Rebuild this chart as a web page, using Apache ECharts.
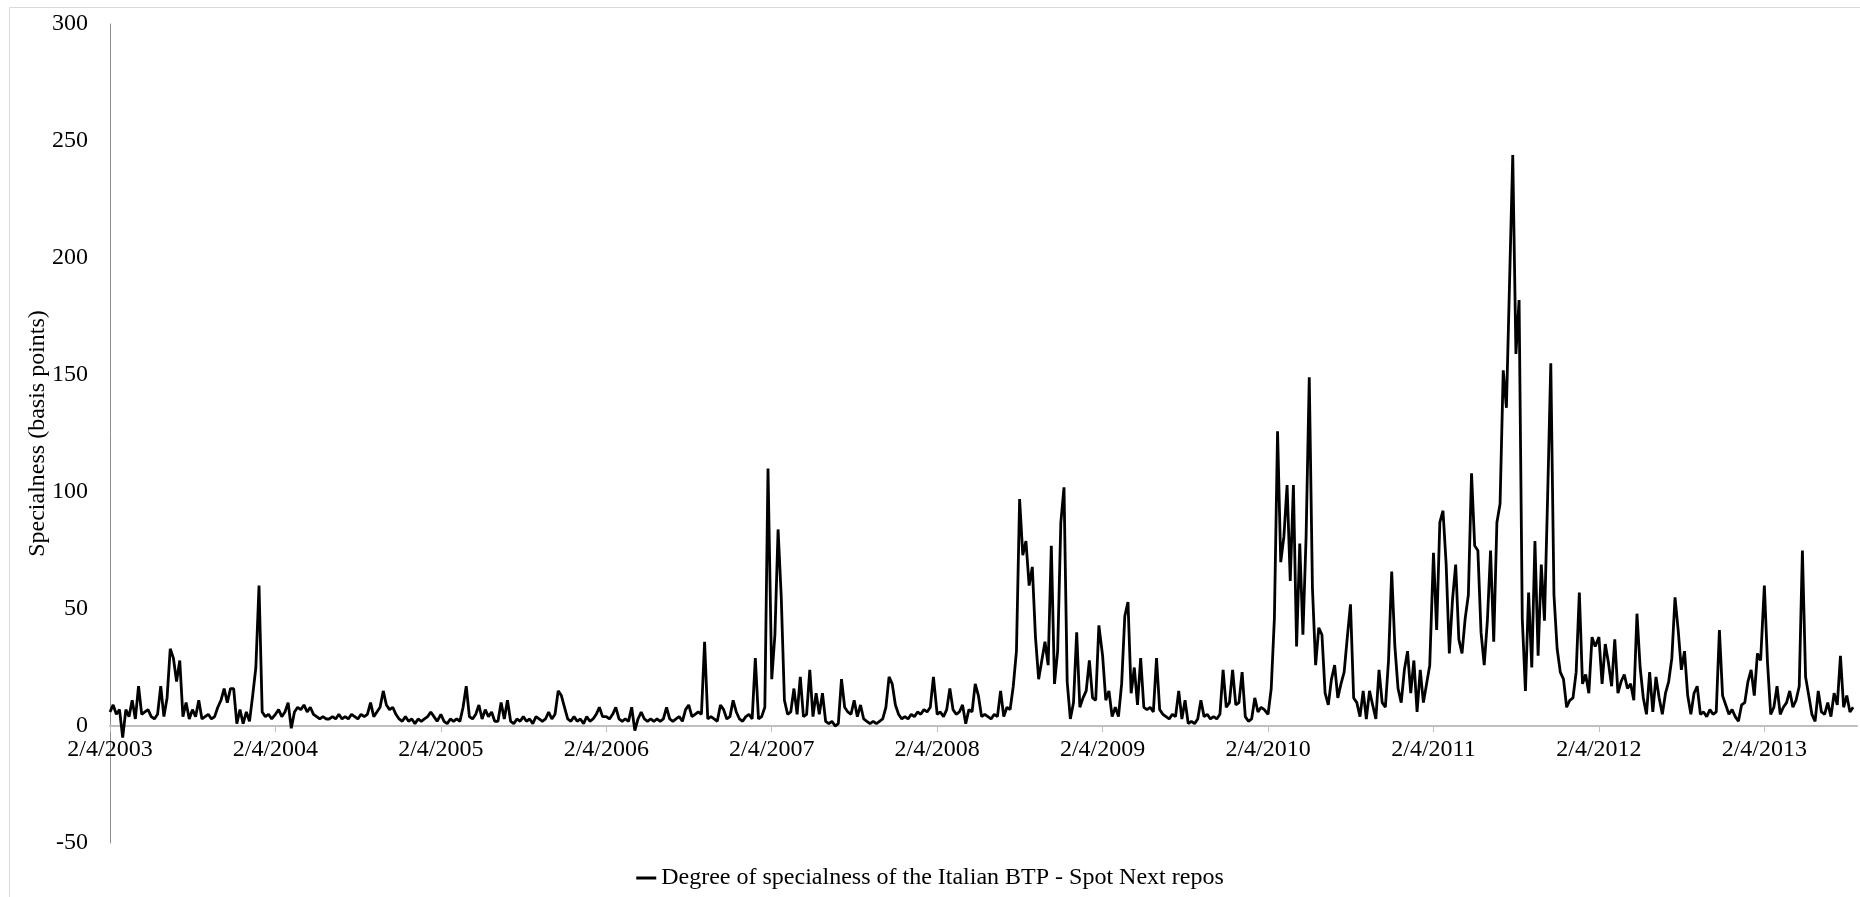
<!DOCTYPE html>
<html>
<head>
<meta charset="utf-8">
<script src="https://cdn.jsdelivr.net/npm/echarts@6/dist/echarts.min.js"></script>
<style>
html,body{margin:0;padding:0;background:#fff;}
#chart{width:1860px;height:897px;}
</style>
</head>
<body>
<div id="chart"></div>
<script>
// Weekly readings (basis points); each year's list starts on 2/4 of that year
const years = [2003,2004,2005,2006,2007,2008,2009,2010,2011,2012,2013];
const v2003 = [6,9,5,7,-5,7,4,11,3,17,5,6,7,4,3,5,17,4,12,33,29,19,28,4,10,3,7,4,11,3,4,5,3,4,8,11,16,10,16,16,1,7,1,6,2,13,25,60,6,4,5,3];
const v2004 = [5,7,4,6,10,-1,6,8,7,9,6,8,5,4,3,4,3,3,4,3,5,3,4,3,5,4,3,5,4,5,10,4,6,8,15,9,7,8,5,3,2,4,2,3,1,3,2,3,4,6,4,2];
const v2005 = [5,2,1,3,2,3,2,8,17,4,3,5,9,3,7,4,6,2,2,10,3,11,2,1,3,2,4,2,3,1,4,3,2,3,6,3,5,15,13,8,3,2,4,2,3,1,4,2,3,5,8,4];
const v2006 = [4,3,5,8,3,2,3,2,8,-2,3,6,3,2,3,2,3,2,3,8,3,2,3,4,2,7,9,4,5,6,5,36,3,4,3,2,9,7,3,4,11,6,3,2,4,5,3,29,3,4,8,110];
const v2007 = [20,39,84,55,11,5,6,16,5,21,4,5,24,4,14,5,14,2,1,2,0,1,20,8,6,5,11,4,9,3,2,1,2,1,2,3,8,21,18,9,5,3,4,3,5,4,6,5,7,6,8,21];
const v2008 = [5,6,4,7,16,7,5,6,9,1,7,6,18,13,4,5,4,3,5,4,15,4,8,7,17,32,97,73,79,60,68,38,20,28,36,26,77,18,32,87,102,19,3,10,40,8,12,15,28,12,11,43];
const v2009 = [30,11,15,4,8,4,18,47,53,14,25,9,29,8,7,8,6,29,7,5,4,3,5,4,15,3,11,1,2,1,3,11,4,5,3,4,3,5,24,8,10,24,9,10,23,4,2,3,12,6,8,7];
const v2010 = [5,16,46,126,70,81,103,62,103,34,78,39,81,149,59,26,42,39,14,9,20,26,12,18,23,38,52,12,10,4,15,3,15,9,3,24,10,8,28,66,34,16,10,24,32,14,28,6,24,10,18,26];
const v2011 = [74,41,87,92,69,31,54,69,37,31,46,56,108,77,75,40,26,45,75,36,87,95,152,136,190,244,159,182,46,15,57,25,79,30,69,45,98,155,56,33,23,20,8,11,12,23,57,18,22,14,38,34];
const v2012 = [38,18,35,27,17,37,14,19,22,16,18,11,48,25,12,5,23,6,21,12,5,14,19,29,55,41,24,32,13,5,14,17,5,6,4,7,5,6,41,13,9,5,7,4,2,9,10,19,24,13,31,28];
const v2013 = [60,27,5,8,17,5,8,10,15,8,11,17,75,21,13,5,2,15,6,5,10,4,14,9,30,8,13,6,8];
const xTickLabels = ['2/4/2003','2/4/2004','2/4/2005','2/4/2006','2/4/2007','2/4/2008','2/4/2009','2/4/2010','2/4/2011','2/4/2012','2/4/2013'];
const seriesName = 'Degree of specialness of the Italian BTP - Spot Next repos';
const yAxisName = 'Specialness (basis points)';

const yearValues = [v2003,v2004,v2005,v2006,v2007,v2008,v2009,v2010,v2011,v2012,v2013];
// x = years elapsed since 2/4/2003 (one observation per week)
const data = [];
yearValues.forEach((arr, i) => {
  arr.forEach((v, w) => { data.push([i + w * 7 / 365.25, v]); });
});

const font = '"Liberation Serif", "Times New Roman", serif';
const chart = echarts.init(document.getElementById('chart'));
const tickIdx = xTickLabels.map((_, i) => i);
const option = {
  animation: false,
  backgroundColor: '#fff',
  graphic: [{
    type: 'rect', left: 7, top: 5, silent: true,
    shape: { width: 1880, height: 920 },
    style: { fill: 'none', stroke: '#d9d9d9', lineWidth: 1 }
  }],
  grid: { left: 110, right: 3, top: 24, bottom: 54 },
  legend: {
    show: true, bottom: 2, left: 'center',
    icon: 'rect', itemWidth: 20, itemHeight: 3,
    textStyle: { fontFamily: font, fontSize: 24, color: '#000' },
    data: [seriesName]
  },
  xAxis: {
    type: 'value', min: 0, max: 10.56, interval: 1,
    offset: 0,
    axisLine: { show: true, onZero: false, lineStyle: { color: '#bfbfbf', width: 2 } },
    axisTick: { show: true, length: 6, lineStyle: { color: '#bfbfbf', width: 1 }, customValues: tickIdx },
    axisLabel: {
      customValues: tickIdx,
      formatter: v => xTickLabels[Math.round(v)] || '',
      fontFamily: font, fontSize: 24, color: '#000', margin: 12
    },
    splitLine: { show: false }
  },
  yAxis: {
    type: 'value', min: -50, max: 300, interval: 50,
    name: yAxisName, nameLocation: 'middle', nameGap: 60, nameMoveOverlap: false,
    nameTextStyle: { fontFamily: font, fontSize: 24, color: '#000' },
    axisLine: { show: true, lineStyle: { color: '#8c8c8c', width: 1 } },
    axisTick: { show: false },
    axisLabel: { fontFamily: font, fontSize: 24, color: '#000', margin: 22 },
    splitLine: { show: false }
  },
  series: [{
    name: seriesName, type: 'line', data: data,
    showSymbol: false, symbol: 'none',
    lineStyle: { color: '#000', width: 2.8 },
    itemStyle: { color: '#000' }
  }]
};
chart.setOption(option);
// move the date axis up to the y = 0 line, using the library's own y scale
const yZero = chart.convertToPixel({ yAxisIndex: 0 }, 0);
const yMin = chart.convertToPixel({ yAxisIndex: 0 }, -50);
chart.setOption({ xAxis: { offset: yZero - yMin } });
</script>
</body>
</html>
